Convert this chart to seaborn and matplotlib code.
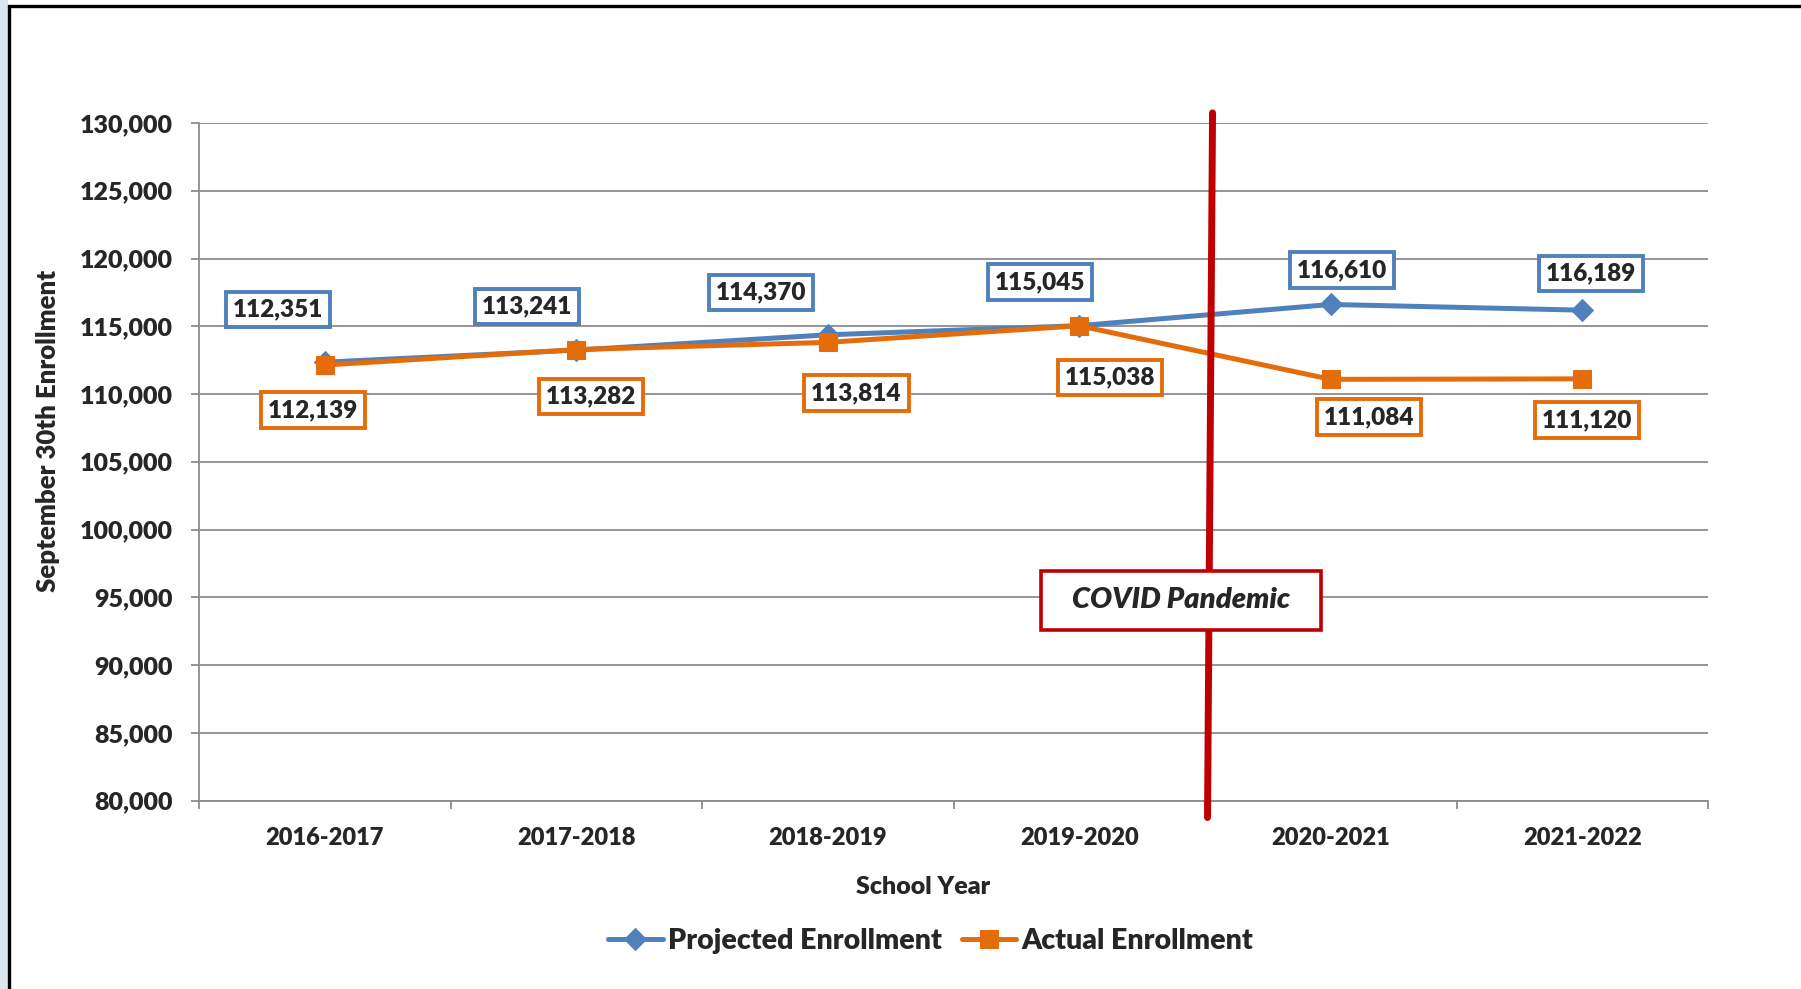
import matplotlib
matplotlib.use("Agg")
import matplotlib.pyplot as plt
import matplotlib.patches as patches
import matplotlib.transforms as mtransforms
from matplotlib.ticker import FuncFormatter, FixedLocator
import seaborn as sns
import pandas as pd

# dados
anos = ["2016-2017", "2017-2018", "2018-2019", "2019-2020", "2020-2021", "2021-2022"]
projetado = [112351, 113241, 114370, 115045, 116610, 116189]
atual = [112139, 113282, 113814, 115038, 111084, 111120]
y_ticks = list(range(80000, 130001, 5000))

AZUL = "#4F81BD"
LARANJA = "#E46C0A"
VERMELHO = "#C00000"
CINZA = "#8C8C8C"
PESO = 800  # Lato ExtraBold, mais próximo do Calibri Bold

sns.set_theme(style="white")
plt.rcParams["font.family"] = ["Lato", "DejaVu Sans"]
plt.rcParams["font.weight"] = PESO

df = pd.DataFrame({"ano": anos, "projetado": projetado, "atual": atual})

fig = plt.figure(figsize=(18.01, 9.89), dpi=100)
ax = fig.add_axes([199 / 1801, 1 - 800.6 / 989, 1509 / 1801, 677.6 / 989])

sns.lineplot(data=df, x="ano", y="projetado", ax=ax, color=AZUL, lw=3.6, marker="D",
             markersize=11, markeredgecolor=AZUL, sort=False, label="Projected Enrollment", zorder=4)
sns.lineplot(data=df, x="ano", y="atual", ax=ax, color=LARANJA, lw=3.6, marker="s",
             markersize=13, markeredgecolor=LARANJA, sort=False, label="Actual Enrollment", zorder=5)

# eixos
ax.set_xlim(-0.5, len(anos) - 0.5)
ax.set_ylim(80000, 130000)
ax.set_yticks(y_ticks)
ax.yaxis.set_major_formatter(FuncFormatter(lambda v, p: f"{int(v):,}"))
ax.set_xticks(range(len(anos)))
ax.set_xticklabels(anos)
ax.xaxis.set_minor_locator(FixedLocator([i - 0.5 for i in range(len(anos) + 1)]))
ax.tick_params(axis="x", which="major", length=0, pad=19, labelsize=17)
ax.tick_params(axis="x", which="minor", length=5.5, width=1.3, color=CINZA, direction="out", bottom=True)
ax.tick_params(axis="y", length=5.8, width=1.3, color=CINZA, direction="out", left=True, pad=13, labelsize=18)
for lab in ax.get_xticklabels() + ax.get_yticklabels():
    lab.set_fontweight(PESO)
ax.grid(axis="y", color=CINZA, lw=1.3)
ax.set_axisbelow(True)
for s in ["top", "right"]:
    ax.spines[s].set_visible(False)
for s in ["left", "bottom"]:
    ax.spines[s].set_color(CINZA)
    ax.spines[s].set_linewidth(1.3)
ax.set_xlabel("")
ax.set_ylabel("")
ax.get_legend().remove()

# rótulos de dados (deslocamentos em pontos)
desloc_proj = [(-33.9, 38.0), (-35.6, 31.4), (-48.0, 30.6), (-28.1, 31.4), (8.3, 24.8), (6.6, 26.5)]
desloc_atual = [(-8.3, -32.3), (10.8, -33.9), (20.7, -36.4), (22.3, -37.2), (27.3, -27.3), (3.3, -29.8)]
for i, (v, d) in enumerate(zip(projetado, desloc_proj)):
    ax.annotate(f"{v:,}", (i, v), xytext=d, textcoords="offset points", ha="center", va="center",
                fontsize=17.5, fontweight=PESO, zorder=6,
                bbox=dict(boxstyle="square,pad=0.28", fc="white", ec=AZUL, lw=2.8))
for i, (v, d) in enumerate(zip(atual, desloc_atual)):
    ax.annotate(f"{v:,}", (i, v), xytext=d, textcoords="offset points", ha="center", va="center",
                fontsize=17.5, fontweight=PESO, zorder=6,
                bbox=dict(boxstyle="square,pad=0.28", fc="white", ec=LARANJA, lw=2.8))

# linha da pandemia
trans = mtransforms.blended_transform_factory(ax.transData, ax.transAxes)
ax.plot([3.53, 3.51], [1.015, -0.025], color=VERMELHO, lw=5, transform=trans, clip_on=False, zorder=7)
caixa = patches.Rectangle((0.5578, 0.2525), 0.1857, 0.0865, transform=ax.transAxes,
                          fc="white", ec=VERMELHO, lw=2.6, zorder=8)
ax.add_patch(caixa)
ax.text(0.5578 + 0.1857 / 2, 0.2525 + 0.0865 / 2, "COVID Pandemic", transform=ax.transAxes,
        ha="center", va="center", fontsize=21, fontweight=PESO, fontstyle="italic", zorder=9)

# títulos dos eixos
fig.text(48 / 1801, 1 - 431 / 989, "September 30th Enrollment", rotation=90, ha="center", va="center",
         fontsize=18.5, fontweight=PESO)
fig.text(923 / 1801, 1 - 887 / 989, "School Year", ha="center", va="center", fontsize=18, fontweight=PESO)

# legenda
leg = fig.legend(handles=ax.get_lines()[:2], labels=["Projected Enrollment", "Actual Enrollment"],
                 loc="center", bbox_to_anchor=(931 / 1801, 1 - 941 / 989), ncol=2, frameon=False,
                 fontsize=20.5, handlelength=1.9, handletextpad=0.2, columnspacing=0.7)
for t in leg.get_texts():
    t.set_fontweight(PESO)

# moldura
fig.patches.append(patches.Rectangle((0, 0), 8 / 1801, 1, transform=fig.transFigure,
                                     fc="#DCE6F2", ec="none", zorder=0))
fig.patches.append(patches.Rectangle((9 / 1801, -0.05), 1.1, 1.05 - 5.5 / 989, transform=fig.transFigure,
                                     fill=False, ec="black", lw=2.4, zorder=10))

fig.savefig("out.png", dpi=100)
